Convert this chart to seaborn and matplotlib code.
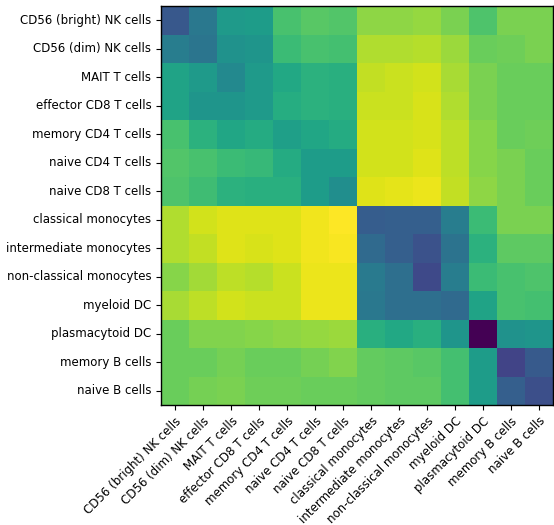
import numpy as np
import pandas as pd
import seaborn as sns
import matplotlib
matplotlib.use("Agg")
import matplotlib.pyplot as plt

cell_types = [
    "CD56 (bright) NK cells", "CD56 (dim) NK cells", "MAIT T cells",
    "effector CD8 T cells", "memory CD4 T cells", "naive CD4 T cells",
    "naive CD8 T cells", "classical monocytes", "intermediate monocytes",
    "non-classical monocytes", "myeloid DC", "plasmacytoid DC",
    "memory B cells", "naive B cells",
]

row_cd56_bright = [0.27, 0.40, 0.54, 0.55, 0.71, 0.74, 0.73, 0.83, 0.83, 0.84, 0.80, 0.72, 0.80, 0.80]
row_cd56_dim    = [0.42, 0.39, 0.51, 0.52, 0.68, 0.71, 0.70, 0.88, 0.88, 0.89, 0.85, 0.77, 0.78, 0.80]
row_mait        = [0.58, 0.54, 0.47, 0.54, 0.60, 0.64, 0.63, 0.91, 0.92, 0.93, 0.87, 0.80, 0.77, 0.77]
row_eff_cd8     = [0.58, 0.52, 0.52, 0.54, 0.62, 0.64, 0.63, 0.92, 0.92, 0.94, 0.88, 0.80, 0.77, 0.77]
row_mem_cd4     = [0.71, 0.64, 0.59, 0.61, 0.56, 0.59, 0.61, 0.93, 0.93, 0.94, 0.90, 0.82, 0.77, 0.78]
row_naive_cd4   = [0.73, 0.71, 0.68, 0.67, 0.61, 0.55, 0.55, 0.93, 0.93, 0.95, 0.90, 0.82, 0.80, 0.77]
row_naive_cd8   = [0.72, 0.69, 0.64, 0.63, 0.63, 0.55, 0.49, 0.95, 0.96, 0.97, 0.91, 0.83, 0.80, 0.77]
row_class_mono  = [0.88, 0.93, 0.95, 0.95, 0.95, 0.98, 1.00, 0.29, 0.30, 0.30, 0.42, 0.68, 0.80, 0.80]
row_inter_mono  = [0.88, 0.91, 0.95, 0.94, 0.95, 0.98, 0.99, 0.34, 0.30, 0.25, 0.38, 0.64, 0.75, 0.75]
row_nonc_mono   = [0.82, 0.86, 0.90, 0.89, 0.92, 0.97, 0.97, 0.41, 0.36, 0.22, 0.42, 0.68, 0.71, 0.72]
row_myeloid_dc  = [0.87, 0.90, 0.93, 0.92, 0.92, 0.97, 0.97, 0.40, 0.36, 0.36, 0.34, 0.58, 0.71, 0.70]
row_pdc         = [0.77, 0.81, 0.81, 0.82, 0.83, 0.84, 0.85, 0.63, 0.60, 0.63, 0.52, 0.00, 0.51, 0.52]
row_mem_b       = [0.77, 0.77, 0.79, 0.77, 0.77, 0.79, 0.81, 0.76, 0.75, 0.74, 0.70, 0.55, 0.20, 0.28]
row_naive_b     = [0.77, 0.79, 0.80, 0.78, 0.78, 0.77, 0.77, 0.76, 0.75, 0.75, 0.70, 0.55, 0.30, 0.24]

rows = [row_cd56_bright, row_cd56_dim, row_mait, row_eff_cd8, row_mem_cd4,
        row_naive_cd4, row_naive_cd8, row_class_mono, row_inter_mono,
        row_nonc_mono, row_myeloid_dc, row_pdc, row_mem_b, row_naive_b]

df = pd.DataFrame(rows, index=cell_types, columns=cell_types)

fig = plt.figure(figsize=(5.54, 5.25), dpi=100)
ax = fig.add_axes([161 / 554, 120 / 525, 392 / 554, 399 / 525])
sns.heatmap(df, cmap="viridis", cbar=False, ax=ax, vmin=0, vmax=1,
            xticklabels=True, yticklabels=True)
for s in ax.spines.values():
    s.set_visible(True)
    s.set_color("black")
    s.set_linewidth(1.0)
ax.tick_params(axis="both", length=3.5, width=0.8, labelsize=8.5)
ax.set_xticklabels(cell_types, rotation=45, ha="right", rotation_mode="anchor")
ax.set_yticklabels(cell_types, rotation=0)
ax.set_xlabel("")
ax.set_ylabel("")
fig.savefig("out.png", dpi=100)
